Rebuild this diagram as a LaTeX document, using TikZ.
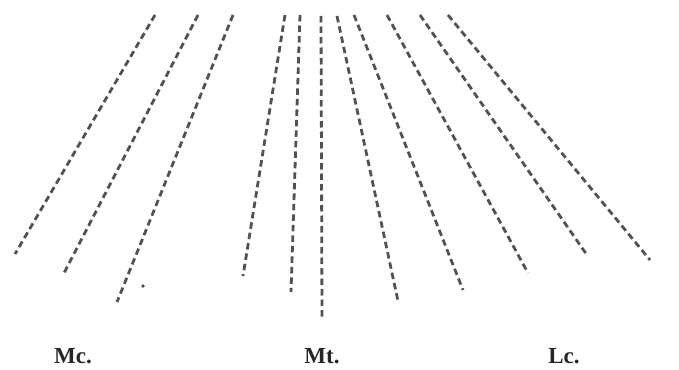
\documentclass[tikz,border=0pt]{standalone}
\usepackage{fontspec}
\setmainfont{Liberation Serif}
\begin{document}
\begin{tikzpicture}[x=1pt,y=-1pt,
  fib/.style={draw=black!68, line width=2.8pt, dash pattern=on 6.5pt off 4pt},
  lbl/.style={font=\bfseries\fontsize{23}{25}\selectfont, text=black!85, anchor=base, inner sep=0pt}]
\useasboundingbox (0,0) rectangle (679,369);
\foreach \n/\tx/\ty/\bx/\by in {
  1/155/15/15/254, 2/198/15/63/275, 3/233/15/117/302,
  4/285/15/243/276, 5/300/15/291/292, 6/321/16/322/317,
  7/337/16/398/301, 8/354/15/463/290, 9/387/15/528/273,
  10/420/15/587/255, 11/448/15/650/260}{
  \coordinate (t\n) at (\tx,\ty);
  \coordinate (b\n) at (\bx,\by);
  \draw[fib] (t\n) -- (b\n);
}
\fill[black!70] (143,286) circle (1.8pt);
\node[lbl] (mc) at (73,363) {Mc.};
\node[lbl] (mt) at (322,363) {Mt.};
\node[lbl] (lc) at (564,363) {Lc.};
\end{tikzpicture}
\end{document}
